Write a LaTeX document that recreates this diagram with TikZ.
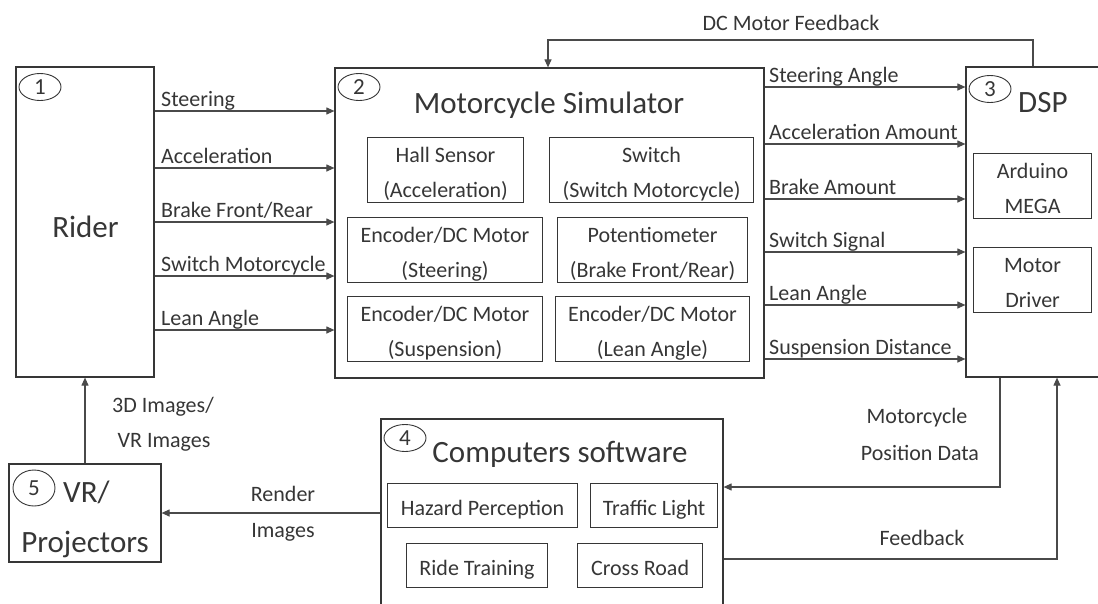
\documentclass[tikz,border=0pt]{standalone}
\usepackage{fontspec}
\setmainfont{Carlito}
\usetikzlibrary{arrows.meta,shapes.geometric}
\definecolor{ink}{HTML}{363636}
\definecolor{wirec}{HTML}{4A4A4A}
\tikzset{
  block/.style={draw=ink, line width=1.2pt, inner sep=0pt},
  subtwo/.style={draw=ink, line width=1.1pt, align=flush center, inner xsep=0pt, inner ysep=0pt,
    text height=25pt, text depth=40pt, font=\fontsize{22}{35}\selectfont, text=ink, anchor=north west},
  subone/.style={draw=ink, line width=1.1pt, align=flush center, inner xsep=0pt, inner ysep=0pt,
    text height=32pt, text depth=12pt, font=\fontsize{22}{26}\selectfont, text=ink, anchor=north west},
  num/.style={draw=ink, ellipse, line width=0.9pt, minimum width=42pt, minimum height=27pt,
    inner sep=0pt, font=\fontsize{23}{26}\selectfont, text=ink},
  lbl/.style={font=\fontsize{22}{26}\selectfont, text=ink, inner sep=0pt},
  ttl/.style={font=\fontsize{31}{36}\selectfont, text=ink, inner sep=0pt},
  arr/.style={draw=wirec, line width=1.1pt, -{Triangle[length=8pt,width=7pt]}},
}
\begin{document}
\begin{tikzpicture}[x=1pt, y=-1pt]
\useasboundingbox (0,0) rectangle (1098,603);

% main blocks
\node[block, minimum width=138pt, minimum height=310pt] (rider) at (85,222) {};
\node[block, minimum width=429pt, minimum height=310pt] (sim) at (549.5,223) {};
\node[block, minimum width=144pt, minimum height=310pt] (dsp) at (1038,222) {};
\node[block, minimum width=342pt, minimum height=221pt] (comp) at (552,529.5) {};
\node[block, minimum width=152pt, minimum height=98pt] (vr) at (85,513) {};

% block numbers
\node[num] (n1) at (40,87) {1};
\node[num] (n2) at (359,87) {2};
\node[num] (n3) at (990,89) {3};
\node[num] (n4) at (405,438) {4};
\node[num, minimum height=36pt] (n5) at (34,488) {5};

% block titles
\node[ttl, anchor=base] (trider) at (85.5,237) {Rider};
\node[ttl, anchor=base] (tsim) at (549,113) {Motorcycle Simulator};
\node[ttl, anchor=base west] (tdsp) at (1018,112) {DSP};
\node[ttl, anchor=base] (tcomp) at (560,462) {Computers software};
\node[ttl, anchor=base west] (tvr) at (63,502) {VR/};
\node[ttl, anchor=base] (tproj) at (85,552) {Projectors};

% simulator parts
\node[subtwo, text width=156pt] (hall) at (367,137) {Hall Sensor\\(Acceleration)};
\node[subtwo, text width=204pt] (swm) at (549,137) {Switch\\(Switch Motorcycle)};
\node[subtwo, text width=195pt] (encst) at (347,217) {Encoder/DC Motor\\(Steering)};
\node[subtwo, text width=190pt] (pot) at (557,217) {Potentiometer\\(Brake Front/Rear)};
\node[subtwo, text width=195pt] (encsu) at (347,296) {Encoder/DC Motor\\(Suspension)};
\node[subtwo, text width=194pt] (encle) at (555,296) {Encoder/DC Motor\\(Lean Angle)};

% DSP parts
\node[subtwo, text width=118pt] (mega) at (973,153) {Arduino\\MEGA};
\node[subtwo, text width=118pt] (drv) at (973,247) {Motor\\Driver};

% software modules
\node[subone, text width=190pt] (haz) at (387,483) {Hazard Perception};
\node[subone, text width=127pt] (tl) at (590,483) {Traffic Light};
\node[subone, text width=141pt] (ride) at (406,543) {Ride Training};
\node[subone, text width=125pt] (cross) at (577,543) {Cross Road};

% rider -> simulator
\draw[arr] (rider.east |- 0,111) -- (sim.west |- 0,111);
\draw[arr] (rider.east |- 0,168) -- (sim.west |- 0,168);
\draw[arr] (rider.east |- 0,222) -- (sim.west |- 0,222);
\draw[arr] (rider.east |- 0,276) -- (sim.west |- 0,276);
\draw[arr] (rider.east |- 0,330) -- (sim.west |- 0,330);
\node[lbl, anchor=base west] (a1) at (161,106) {Steering};
\node[lbl, anchor=base west] (a2) at (161,163) {Acceleration};
\node[lbl, anchor=base west] (a3) at (161,217) {Brake Front/Rear};
\node[lbl, anchor=base west] (a4) at (161,271) {Switch Motorcycle};
\node[lbl, anchor=base west] (a5) at (161,325) {Lean Angle};

% simulator -> DSP
\draw[arr] (sim.east |- 0,87) -- (dsp.west |- 0,87);
\draw[arr] (sim.east |- 0,144) -- (dsp.west |- 0,144);
\draw[arr] (sim.east |- 0,199) -- (dsp.west |- 0,199);
\draw[arr] (sim.east |- 0,252) -- (dsp.west |- 0,252);
\draw[arr] (sim.east |- 0,305) -- (dsp.west |- 0,305);
\draw[arr] (sim.east |- 0,359) -- (dsp.west |- 0,359);
\node[lbl, anchor=base west] (b1) at (769,82) {Steering Angle};
\node[lbl, anchor=base west] (b2) at (769,139) {Acceleration Amount};
\node[lbl, anchor=base west] (b3) at (769,194) {Brake Amount};
\node[lbl, anchor=base west] (b4) at (769,247) {Switch Signal};
\node[lbl, anchor=base west] (b5) at (769,300) {Lean Angle};
\node[lbl, anchor=base west] (b6) at (769,354) {Suspension Distance};

% DSP -> simulator feedback loop
\draw[arr] (dsp.north -| 1033,0) |- (548,40) -- (sim.north -| 548,0);
\node[lbl, anchor=base] (fb1) at (791,30) {DC Motor Feedback};

% DSP <-> software
\draw[arr] (dsp.south -| 1000,0) |- (comp.east |- 0,487);
\node[lbl, anchor=base] (p1) at (917,423) {Motorcycle};
\node[lbl, anchor=base] (p2) at (920,460) {Position Data};
\draw[arr] (comp.east |- 0,559) -| (dsp.south -| 1057,0);
\node[lbl, anchor=base] (fb2) at (922,545) {Feedback};

% software -> projectors -> rider
\draw[arr] (comp.west |- 0,513) -- (vr.east |- 0,513);
\node[lbl, anchor=base] (r1) at (283,501) {Render};
\node[lbl, anchor=base] (r2) at (283,537) {Images};
\draw[arr] (vr.north) -- (rider.south);
\node[lbl, anchor=base] (v1) at (163,412) {3D Images/};
\node[lbl, anchor=base] (v2) at (164,447) {VR Images};
\end{tikzpicture}
\end{document}
